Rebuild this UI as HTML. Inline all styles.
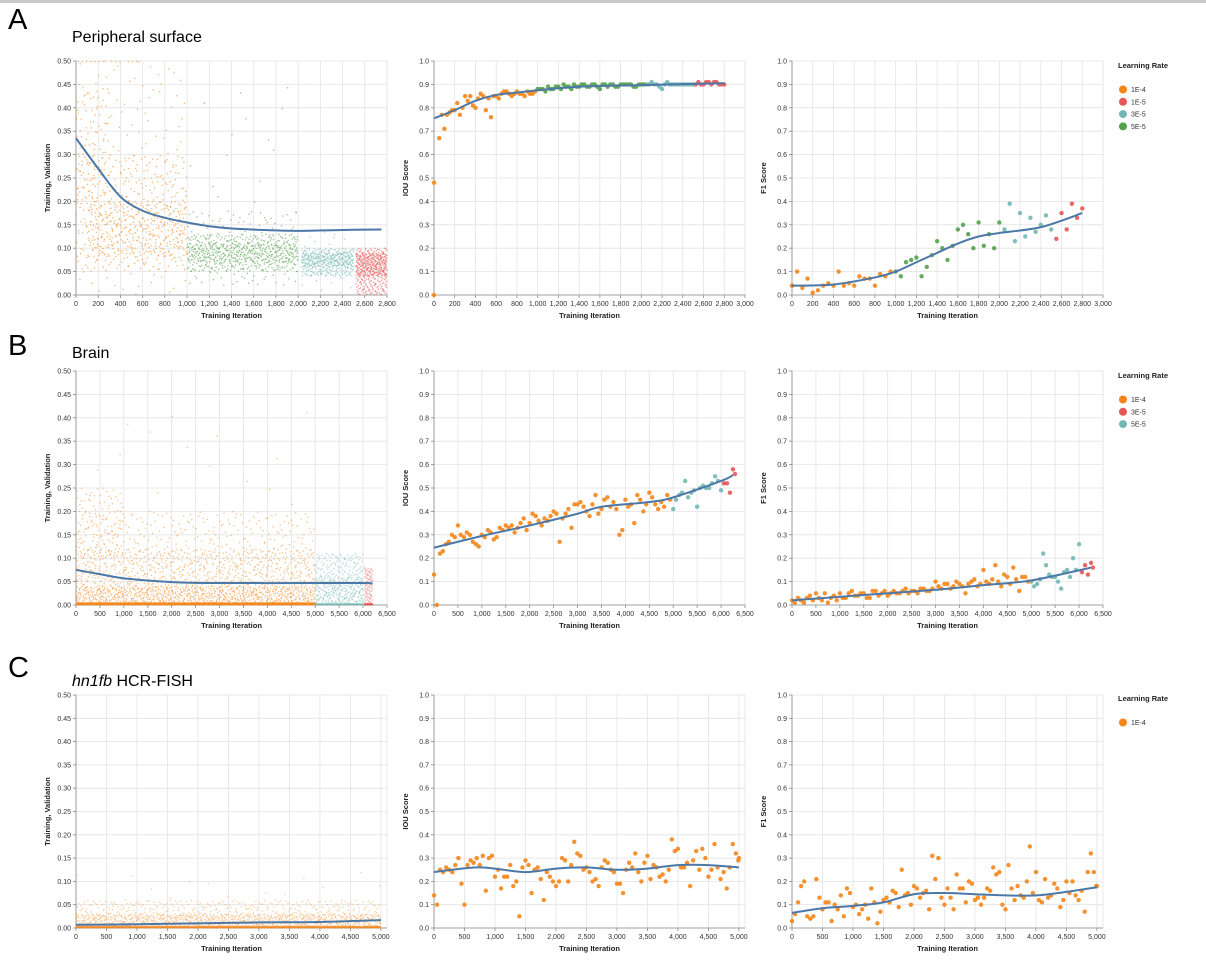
<!DOCTYPE html>
<html><head><meta charset="utf-8"><style>
body{margin:0;background:#fff;width:1206px;height:965px;overflow:hidden;font-family:"Liberation Sans",sans-serif}
svg text{font-family:"Liberation Sans",sans-serif}
</style></head><body>
<svg id="fig" width="1206" height="965" viewBox="0 0 1206 965" xmlns="http://www.w3.org/2000/svg">
<rect x="0" y="0" width="1206" height="3" fill="#c8c8c8"/>
<text x="8" y="29" font-size="29">A</text>
<text x="72" y="42" font-size="16">Peripheral surface</text>
<text x="8" y="355" font-size="29">B</text>
<text x="72" y="358" font-size="16">Brain</text>
<text x="8" y="677" font-size="29">C</text>
<text x="72" y="686" font-size="16"><tspan font-style="italic">hn1fb</tspan> HCR-FISH</text>
</svg>
<script>
// ---------- DATA ----------
const colA = {"1E-4":"#f58518","1E-5":"#e45756","3E-5":"#72b7b2","5E-5":"#54a24b"};
const colB = {"1E-4":"#f58518","3E-5":"#e45756","5E-5":"#72b7b2"};
const colC = {"1E-4":"#f58518"};
const legendA = ["1E-4","1E-5","3E-5","5E-5"];
const legendB = ["1E-4","3E-5","5E-5"];
const legendC = ["1E-4"];
const lrStartsA = [0,1000,2030,2520];
const lrLabelsA = ["1E-4","5E-5","3E-5","1E-5"];
const lrStartsB = [0,5000,6030];
const lrLabelsB = ["1E-4","5E-5","3E-5"];
const lrStartsC = [0];
const lrLabelsC = ["1E-4"];

// loss density bands: [iterStart, iterEnd, lossLow, lossHigh, count]
const lossBandsA = [[0,1000,0,0.5,150],[0,1000,0.05,0.3,300],[100,1000,0.08,0.2,250],[0,300,0.2,0.45,80],[0,600,0.498,0.5,15],
 [1000,2000,0.02,0.18,150],[1000,2000,0.05,0.13,350],[1000,2000,0.07,0.11,200],[1000,2000,0.15,0.45,15],
 [2030,2500,0.04,0.1,250],[2030,2500,0.06,0.09,150],[2030,2500,0,0.14,30],
 [2520,2800,0,0.1,250],[2520,2800,0.04,0.09,200]];
const lossBandsB = [[0,5000,0,0.2,500],[0,5000,0,0.12,700],[0,5000,0,0.04,600],[0,5000,0,0.005,1500],[0,5000,0.2,0.42,15],[0,1000,0.1,0.25,100],
 [5000,6000,0,0.11,250],[5000,6000,0,0.06,150],[5000,6000,0,0.003,150],[6030,6200,0,0.08,80],[6030,6200,0,0.003,60]];
const lossBandsC = [[0,5000,0,0.06,500],[0,5000,0,0.03,800],[0,5000,0,0.004,1500],[0,5000,0.05,0.12,15]];
const lossTrendXA = [0,200,400,600,800,1000,1200,1400,1800,2000,2400,2750];
const lossTrendYA = [.335,.27,.21,.18,.165,.155,.147,.142,.138,.137,.139,.14];
const lossTrendXB = [0,500,1000,2000,3000,5000,6000,6200];
const lossTrendYB = [.075,.066,.057,.049,.047,.047,.047,.046];
const lossTrendXC = [0,1000,2000,3000,4000,5000];
const lossTrendYC = [.007,.008,.01,.012,.013,.017];

const iterA = [0,0,50,100,150,200,250,300,350,400,450,500,550,600,650,700,750,800,850,900,950,1000,1050,1100,1150,1200,1250,1300,1350,1400,1450,1500,1550,1600,1650,1700,1750,1800,1850,1900,1950,2000,2050,2100,2150,2200,2250,2300,2350,2400,2450,2500,2550,2600,2650,2700,2750,2800];
const iouA = [0.0,0.48,0.67,0.71,0.78,0.79,0.77,0.85,0.85,0.8,0.86,0.79,0.76,0.85,0.86,0.87,0.85,0.87,0.86,0.87,0.86,0.88,0.88,0.89,0.88,0.89,0.9,0.89,0.9,0.89,0.9,0.89,0.9,0.88,0.9,0.9,0.89,0.9,0.9,0.9,0.89,0.9,0.9,0.91,0.9,0.88,0.91,0.9,0.9,0.9,0.9,0.9,0.91,0.9,0.91,0.91,0.9,0.9];
const iterA2 = [75,125,175,225,275,325,375,425,475,525,575,625,675,725,775,825,875,925,975,1025,1075,1125,1175,1225,1275,1325,1375,1425,1475,1525,1575,1625,1675,1725,1775,1825,1875,1925,1975,2025,2075,2125,2175,2225,2275,2325,2375,2425,2475,2525,2575,2625,2675,2725,2775];
const iouA2 = [0.77,0.77,0.79,0.82,0.8,0.83,0.81,0.84,0.85,0.84,0.85,0.84,0.87,0.86,0.86,0.86,0.85,0.86,0.87,0.88,0.87,0.88,0.89,0.88,0.89,0.88,0.89,0.9,0.89,0.9,0.89,0.9,0.89,0.9,0.89,0.9,0.9,0.89,0.9,0.9,0.9,0.9,0.89,0.9,0.9,0.9,0.9,0.9,0.9,0.9,0.9,0.91,0.9,0.91,0.9];
const f1A = [0.04,0.04,0.1,0.03,0.07,0.01,0.02,0.04,0.05,0.04,0.1,0.04,0.05,0.04,0.08,0.07,0.07,0.04,0.09,0.08,0.1,0.1,0.08,0.14,0.15,0.16,0.08,0.12,0.17,0.23,0.2,0.15,0.21,0.28,0.3,0.26,0.2,0.31,0.21,0.26,0.2,0.31,0.28,0.39,0.23,0.35,0.25,0.33,0.27,0.3,0.34,0.28,0.24,0.35,0.28,0.39,0.33,0.37];
const iouTrendXA = [0,200,400,600,800,1000,1400,2000,2800];
const iouTrendYA = [.755,.79,.83,.855,.865,.875,.89,.897,.905];
const f1TrendXA = [0,400,800,1000,1200,1400,1600,1800,2000,2400,2800];
const f1TrendYA = [.04,.045,.075,.1,.14,.18,.22,.25,.265,.29,.35];

const iterB = [0,125,250,375,500,625,750,875,1000,1125,1250,1375,1500,1625,1750,1875,2000,2125,2250,2375,2500,2625,2750,2875,3000,3125,3250,3375,3500,3625,3750,3875,4000,4125,4250,4375,4500,4625,4750,4875,5000,5125,5250,5375,5500,5625,5750,5875,6000,6125,6250];
const iterB2 = [60,185,310,435,560,685,810,935,1060,1185,1310,1435,1560,1685,1810,1935,2060,2185,2310,2435,2560,2685,2810,2935,3060,3185,3310,3435,3560,3685,3810,3935,4060,4185,4310,4435,4560,4685,4810,4935,5060,5185,5310,5435,5560,5685,5810,5935,6060,6185,6290];
const iouB = [0.13,0.22,0.26,0.3,0.34,0.29,0.3,0.26,0.3,0.32,0.28,0.33,0.34,0.34,0.33,0.37,0.35,0.38,0.34,0.36,0.4,0.27,0.39,0.33,0.43,0.42,0.38,0.47,0.41,0.46,0.44,0.3,0.45,0.43,0.47,0.4,0.48,0.43,0.44,0.47,0.41,0.47,0.53,0.48,0.42,0.51,0.5,0.55,0.49,0.52,0.58];
const iouB2 = [0.0,0.23,0.27,0.29,0.3,0.31,0.27,0.25,0.29,0.31,0.29,0.32,0.33,0.31,0.35,0.32,0.39,0.36,0.37,0.38,0.39,0.37,0.41,0.43,0.44,0.4,0.43,0.39,0.45,0.42,0.41,0.32,0.42,0.35,0.45,0.43,0.46,0.41,0.42,0.45,0.45,0.48,0.46,0.49,0.5,0.5,0.52,0.53,0.52,0.48,0.56];
const f1B = [0.02,0.03,0.01,0.04,0.05,0.02,0.01,0.04,0.05,0.03,0.06,0.04,0.05,0.03,0.06,0.05,0.04,0.06,0.05,0.07,0.06,0.05,0.07,0.06,0.1,0.07,0.09,0.08,0.09,0.05,0.1,0.08,0.15,0.09,0.17,0.08,0.12,0.16,0.06,0.12,0.1,0.09,0.22,0.13,0.12,0.07,0.15,0.2,0.26,0.17,0.18];
const f1B2 = [0.01,0.02,0.03,0.02,0.03,0.05,0.03,0.02,0.03,0.05,0.04,0.05,0.03,0.06,0.04,0.06,0.05,0.05,0.06,0.05,0.06,0.07,0.06,0.07,0.08,0.09,0.07,0.1,0.08,0.09,0.11,0.09,0.1,0.11,0.1,0.13,0.09,0.11,0.12,0.1,0.08,0.11,0.17,0.12,0.1,0.14,0.12,0.15,0.14,0.13,0.16];
const iouTrendXB = [0,1000,2000,3000,3500,4500,5000,6000,6250];
const iouTrendYB = [.245,.295,.34,.39,.42,.44,.46,.53,.555];
const f1TrendXB = [0,1000,2000,3000,4000,5000,6250];
const f1TrendYB = [.02,.035,.05,.065,.085,.105,.16];

const iterC = [0,100,200,300,400,500,600,700,800,900,1000,1100,1200,1300,1400,1500,1600,1700,1800,1900,2000,2100,2200,2300,2400,2500,2600,2700,2800,2900,3000,3100,3200,3300,3400,3500,3600,3700,3800,3900,4000,4100,4200,4300,4400,4500,4600,4700,4800,4900,5000];
const iterC2 = [50,150,250,350,450,550,650,750,850,950,1050,1150,1250,1350,1450,1550,1650,1750,1850,1950,2050,2150,2250,2350,2450,2550,2650,2750,2850,2950,3050,3150,3250,3350,3450,3550,3650,3750,3850,3950,4050,4150,4250,4350,4450,4550,4650,4750,4850,4950,4990];
const iouC = [0.14,0.25,0.26,0.24,0.3,0.1,0.29,0.3,0.31,0.3,0.22,0.17,0.22,0.18,0.05,0.29,0.15,0.26,0.12,0.22,0.18,0.3,0.2,0.37,0.31,0.26,0.2,0.18,0.29,0.25,0.19,0.15,0.28,0.32,0.2,0.31,0.27,0.22,0.2,0.38,0.34,0.26,0.18,0.33,0.34,0.22,0.36,0.21,0.17,0.36,0.3];
const iouC2 = [0.1,0.24,0.25,0.27,0.19,0.27,0.28,0.27,0.16,0.31,0.25,0.22,0.27,0.2,0.26,0.27,0.25,0.21,0.24,0.2,0.2,0.29,0.27,0.32,0.25,0.24,0.21,0.26,0.28,0.24,0.19,0.25,0.26,0.24,0.28,0.21,0.26,0.23,0.25,0.33,0.26,0.28,0.29,0.25,0.3,0.25,0.26,0.24,0.26,0.32,0.29];
const f1C = [0.03,0.11,0.2,0.04,0.21,0.08,0.11,0.1,0.14,0.17,0.09,0.06,0.1,0.17,0.02,0.12,0.11,0.15,0.25,0.15,0.18,0.13,0.16,0.31,0.3,0.1,0.13,0.23,0.17,0.2,0.12,0.1,0.17,0.26,0.24,0.08,0.17,0.18,0.13,0.35,0.24,0.11,0.13,0.19,0.09,0.2,0.2,0.12,0.07,0.32,0.18];
const f1C2 = [0.06,0.18,0.05,0.05,0.13,0.11,0.03,0.08,0.05,0.15,0.1,0.08,0.04,0.11,0.07,0.13,0.16,0.09,0.14,0.1,0.17,0.15,0.08,0.21,0.13,0.17,0.08,0.17,0.11,0.19,0.13,0.13,0.16,0.23,0.1,0.27,0.12,0.14,0.2,0.15,0.12,0.21,0.14,0.17,0.12,0.15,0.14,0.16,0.24,0.24,0.18];
const iouTrendXC = [0,300,700,1000,1500,2000,2500,3000,3500,4000,4500,5000];
const iouTrendYC = [.24,.25,.26,.255,.24,.255,.26,.25,.255,.27,.27,.26];
const f1TrendXC = [0,500,1000,1500,2000,2500,3000,3500,4000,4500,5000];
const f1TrendYC = [.065,.085,.095,.11,.145,.15,.145,.14,.14,.155,.175];

// ---------- DRAWING ----------
const NS = "http://www.w3.org/2000/svg";
const svg = document.getElementById('fig');
function el(tag, attrs, parent){const e=document.createElementNS(NS,tag);for(const k in attrs)e.setAttribute(k,attrs[k]);(parent||svg).appendChild(e);return e;}
function fmt(v){return v.toLocaleString('en-US');}
function lrOf(x, starts, labels){let l=labels[0];for(let i=0;i<starts.length;i++)if(x>=starts[i])l=labels[i];return l;}

function axes(g, x0,x1,y0,y1, xMax,xStep,xLabelMax, yMax,yStep,yDec, ytitle){
  const sx=v=>x0+(v/xMax)*(x1-x0), sy=v=>y1-(v/yMax)*(y1-y0);
  const nx=Math.round(xLabelMax/xStep), ny=Math.round(yMax/yStep);
  for(let i=0;i<=nx;i++){const v=i*xStep;const x=sx(v);
    const gl=el('line',{x1:x,x2:x,y1:y0,y2:y1,stroke:'#e3e3e3','stroke-width':0.8},g);
    
    el('line',{x1:x,x2:x,y1:y1,y2:y1+3,stroke:'#888','stroke-width':0.8},g);
    const t=el('text',{x:x,y:y1+11,'font-size':7,'text-anchor':'middle',fill:'#333'},g);t.textContent=fmt(v);
    }
  el('line',{x1:x1,x2:x1,y1:y0,y2:y1,stroke:'#e3e3e3','stroke-width':0.8},g);
  for(let i=0;i<=ny;i++){const v=i*yStep;const y=sy(v);
    const gl=el('line',{x1:x0,x2:x1,y1:y,y2:y,stroke:'#e3e3e3','stroke-width':0.8},g);
    
    el('line',{x1:x0-3,x2:x0,y1:y,y2:y,stroke:'#888','stroke-width':0.8},g);
    const t=el('text',{x:x0-5,y:y+2.5,'font-size':7,'text-anchor':'end',fill:'#333'},g);t.textContent=v.toFixed(yDec);
    }
  el('line',{x1:x0,x2:x0,y1:y0,y2:y1,stroke:'#888','stroke-width':0.8},g);
  el('line',{x1:x0,x2:x1,y1:y1,y2:y1,stroke:'#888','stroke-width':0.8},g);
  const xt=el('text',{x:(x0+x1)/2,y:y1+23,'font-size':7.5,'font-weight':'bold','text-anchor':'middle',fill:'#222'},g);
  xt.textContent='Training Iteration';
  
  const yc=(y0+y1)/2, yx=x0-26;
  const yt=el('text',{x:yx,y:yc,'font-size':7.5,'font-weight':'bold','text-anchor':'middle',fill:'#222',transform:`rotate(-90 ${yx} ${yc})`},g);
  yt.textContent=ytitle;
  
  return {sx,sy};
}
function smoothPath(pts){
  let d=`M${pts[0][0]},${pts[0][1]}`;
  for(let i=0;i<pts.length-1;i++){const p0=pts[Math.max(0,i-1)],p1=pts[i],p2=pts[i+1],p3=pts[Math.min(pts.length-1,i+2)];
    const c1=[p1[0]+(p2[0]-p0[0])/6,p1[1]+(p2[1]-p0[1])/6],c2=[p2[0]-(p3[0]-p1[0])/6,p2[1]-(p3[1]-p1[1])/6];
    d+=` C${c1[0]},${c1[1]} ${c2[0]},${c2[1]} ${p2[0]},${p2[1]}`;}
  return d;
}
function trend(g,s,xs,ys){
  const p=el('path',{d:smoothPath(xs.map((x,i)=>[s.sx(x),s.sy(ys[i])])),fill:'none',stroke:'#4c78a8','stroke-width':2},g);
  
}
function halton(i,b){let f=1,r=0;while(i>0){f/=b;r+=f*(i%b);i=Math.floor(i/b);}return r;}
function lossChart(name,y0,y1,xMax,xStep,bands,starts,labels,cols,tx,ty,op){
  const g=el('g',{});
  const s=axes(g,76,387,y0,y1,xMax,xStep,xMax,0.5,0.05,2,'Training, Validation');
  let idx=1;
  bands.forEach(b=>{for(let k=0;k<b[4];k++){idx++;
    const it=b[0]+(b[1]-b[0])*halton(idx,2), v=b[2]+(b[3]-b[2])*halton(idx,3);
    const c=el('circle',{cx:s.sx(it).toFixed(1),cy:s.sy(v).toFixed(1),r:0.75,fill:cols[lrOf(it,starts,labels)],'fill-opacity':op},g);
    }});
  trend(g,s,tx,ty);
}
function scoreChart(name,x0,y0,y1,xMax,xStep,xLabelMax,ytitle,sets,starts,labels,cols,tx,ty){
  const g=el('g',{});
  const s=axes(g,x0,x0+311,y0,y1,xMax,xStep,xLabelMax,1,0.1,1,ytitle);
  sets.forEach(([xs,ys])=>xs.forEach((x,i)=>{
    const c=el('circle',{cx:s.sx(x),cy:s.sy(ys[i]),r:2.2,fill:cols[lrOf(x,starts,labels)],'fill-opacity':0.9},g);
    }));
  trend(g,s,tx,ty);
}
function legend(name,y,items,cols){
  const g=el('g',{});
  const t=el('text',{x:1118,y:y,'font-size':7.5,'font-weight':'bold',fill:'#222'},g);t.textContent='Learning Rate';
  
  items.forEach((it,i)=>{const yy=y+24+i*12.3;
    const c=el('circle',{cx:1123,cy:yy-2.5,r:4,fill:cols[it]},g);
    
    const tt=el('text',{x:1131,y:yy,'font-size':7,fill:'#333'},g);tt.textContent=it;
    });
}
// Row A
lossChart('loss-chart-a',61,295,2800,200,lossBandsA,lrStartsA,lrLabelsA,colA,lossTrendXA,lossTrendYA,0.6);
scoreChart('iou-chart-a',434,61,295,3000,200,3000,'IOU Score',[[iterA,iouA],[iterA2,iouA2]],lrStartsA,lrLabelsA,colA,iouTrendXA,iouTrendYA);
scoreChart('f1-chart-a',792,61,295,3000,200,3000,'F1 Score',[[iterA,f1A]],lrStartsA,lrLabelsA,colA,f1TrendXA,f1TrendYA);
legend('legend-a',68,legendA,colA);
// Row B
lossChart('loss-chart-b',371,605,6500,500,lossBandsB,lrStartsB,lrLabelsB,colB,lossTrendXB,lossTrendYB,0.5);
scoreChart('iou-chart-b',434,371,605,6500,500,6500,'IOU Score',[[iterB,iouB],[iterB2,iouB2]],lrStartsB,lrLabelsB,colB,iouTrendXB,iouTrendYB);
scoreChart('f1-chart-b',792,371,605,6500,500,6500,'F1 Score',[[iterB,f1B],[iterB2,f1B2]],lrStartsB,lrLabelsB,colB,f1TrendXB,f1TrendYB);
legend('legend-b',378,legendB,colB);
// Row C
lossChart('loss-chart-c',695,928,5100,500,lossBandsC,lrStartsC,lrLabelsC,colC,lossTrendXC,lossTrendYC,0.4);
scoreChart('iou-chart-c',434,695,928,5100,500,5000,'IOU Score',[[iterC,iouC],[iterC2,iouC2]],lrStartsC,lrLabelsC,colC,iouTrendXC,iouTrendYC);
scoreChart('f1-chart-c',792,695,928,5100,500,5000,'F1 Score',[[iterC,f1C],[iterC2,f1C2]],lrStartsC,lrLabelsC,colC,f1TrendXC,f1TrendYC);
legend('legend-c',701,legendC,colC);
</script>
</body></html>
